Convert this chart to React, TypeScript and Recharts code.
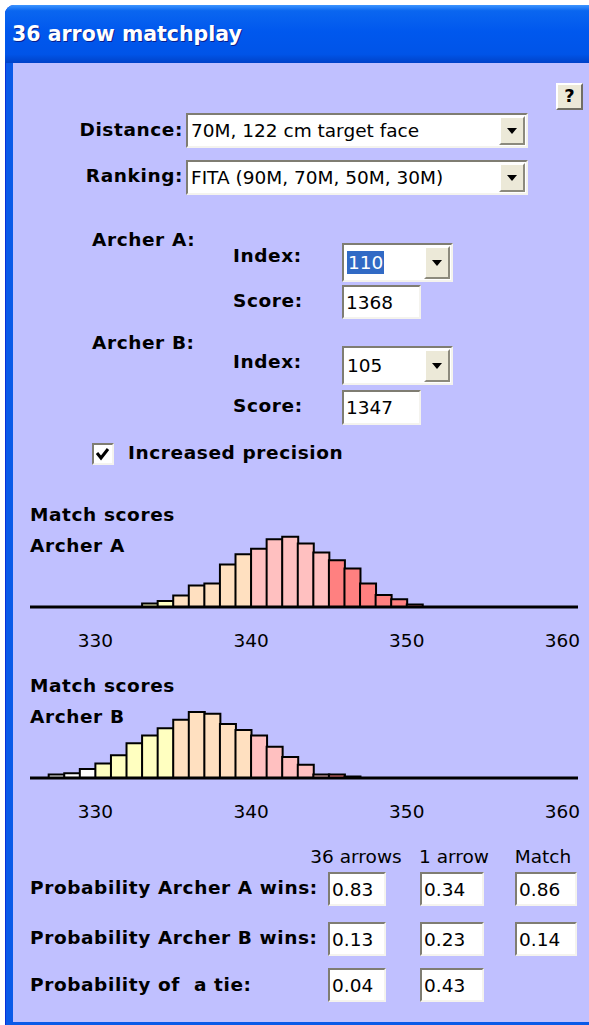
import React from 'react';
import { BarChart, Bar, XAxis, YAxis, Cell } from 'recharts';

// Archer A: match score distribution (percent per score)
const scoresA = [333, 334, 335, 336, 337, 338, 339, 340, 341, 342, 343, 344, 345, 346, 347, 348, 349, 350];
const pctA = [0.6, 1.0, 1.9, 3.6, 3.9, 7.1, 8.8, 9.7, 11.3, 11.7, 10.6, 9.1, 7.8, 6.4, 3.9, 2.0, 1.3, 0.4];

// Archer B
const scoresB = [327, 328, 329, 330, 331, 332, 333, 334, 335, 336, 337, 338, 339, 340, 341, 342, 343, 344, 345, 346];
const pctB = [0.6, 0.8, 1.5, 2.4, 3.8, 5.8, 7.1, 8.3, 9.7, 11.0, 10.7, 9.0, 8.0, 7.1, 5.2, 3.5, 2.2, 0.6, 0.6, 0.25];

const xTicks = [330, 340, 350, 360];

const columns = ['36 arrows', '1 arrow', 'Match'];
const probA = ['0.83', '0.34', '0.86'];
const probB = ['0.13', '0.23', '0.14'];
const probTie = ['0.04', '0.43'];

const FONT = '"DejaVu Sans", Verdana, sans-serif';
const bandColors = ['#ffffff', '#ffffc0', '#ffe0c0', '#ffc0c0', '#ff8080'];
const colorFor = (s: number) => bandColors[Math.min(4, Math.floor((s - 325) / 5))];

const sunken = {
  background: '#fff',
  borderStyle: 'solid',
  borderWidth: 2,
  borderColor: '#7f7d72 #f4f3ee #f4f3ee #7f7d72',
  boxSizing: 'border-box' as const,
};

const Text = ({ x, cy, children, bold = true, right = false, center = false, size = 18.5, color = '#000' }: any) => (
  <div
    style={{
      position: 'absolute',
      left: right ? x - 300 : center ? x - 150 : x,
      width: right || center ? 300 : undefined,
      textAlign: right ? 'right' : center ? 'center' : 'left',
      top: cy - 12,
      height: 24,
      lineHeight: '24px',
      fontSize: size,
      fontWeight: bold ? 'bold' : 'normal',
      letterSpacing: bold ? 0.6 : 0,
      whiteSpace: 'pre',
      color,
    }}
  >
    {children}
  </div>
);

const Box = ({ x, y, w, h, text }: any) => (
  <div style={{ ...sunken, position: 'absolute', left: x, top: y, width: w, height: h }}>
    <div style={{ position: 'absolute', left: 2, top: 0, bottom: 0, display: 'flex', alignItems: 'center', fontSize: 18.5 }}>{text}</div>
  </div>
);

const DropButton = () => (
  <div
    style={{
      position: 'absolute',
      right: 1,
      top: 1,
      bottom: 1,
      width: 26,
      background: '#ece9d8',
      borderStyle: 'solid',
      borderWidth: 2,
      borderColor: '#fff #8c8a7d #8c8a7d #fff',
      boxSizing: 'border-box',
    }}
  >
    <svg width={22} height={26} style={{ position: 'absolute', left: 0, top: '50%', marginTop: -13 }}>
      <polygon points="6,10 16,10 11,16" fill="#000" />
    </svg>
  </div>
);

const Combo = ({ x, y, w, h, text, highlight = false }: any) => (
  <div style={{ ...sunken, position: 'absolute', left: x, top: y, width: w, height: h }}>
    <div style={{ position: 'absolute', left: 3, top: 0, bottom: 0, display: 'flex', alignItems: 'center', fontSize: 18.5 }}>
      <span style={highlight ? { background: '#316ac5', color: '#fff', padding: '1px 1px' } : {}}>{text}</span>
    </div>
    <DropButton />
  </div>
);

const Histogram = ({ scores, pct, top }: { scores: number[]; pct: number[]; top: number }) => {
  const data = scores.map((s, i) => ({ score: s, mid: s + 0.5, pct: pct[i] }));
  return (
    <div style={{ position: 'absolute', left: 0, top }}>
      <BarChart width={589} height={132} data={data} margin={{ top: 10, right: 11, bottom: 0, left: 30 }} barCategoryGap={0} barGap={0}>
        <XAxis
          dataKey="mid"
          type="number"
          domain={[325.8, 361]}
          allowDataOverflow
          ticks={xTicks}
          interval={0}
          tickLine={false}
          tickSize={6}
          tickMargin={21}
          height={50}
          axisLine={{ stroke: '#000', strokeWidth: 3 }}
          tick={{ fill: '#000', fontSize: 18.5, fontFamily: FONT }}
        />
        <YAxis hide domain={[0, 12]} />
        <Bar dataKey="pct" stroke="#000" strokeWidth={2} isAnimationActive={false}>
          {data.map((d) => (
            <Cell key={d.score} fill={colorFor(d.score)} />
          ))}
        </Bar>
      </BarChart>
    </div>
  );
};

export default function App() {
  const colX = [328, 420, 515];
  const colW = [58, 64, 62];
  const rows = [
    { label: 'Probability Archer A wins:', cy: 888, top: 872, vals: probA },
    { label: 'Probability Archer B wins:', cy: 938, top: 922, vals: probB },
    { label: 'Probability of  a tie:', cy: 985, top: 968, vals: probTie },
  ];
  const headerCx = [356, 454, 543];

  return (
    <div style={{ position: 'absolute', left: 0, top: 0, width: 589, height: 1025, overflow: 'hidden', background: '#fff', fontFamily: FONT }}>
      {/* window frame */}
      <div style={{ position: 'absolute', left: 5, top: 5, width: 620, height: 1030, background: '#0a5ae8', borderLeft: '1px solid #0831d9', borderRadius: '9px 9px 0 0' }} />
      {/* title bar */}
      <div
        style={{
          position: 'absolute',
          left: 5,
          top: 5,
          width: 620,
          height: 58,
          borderRadius: '9px 9px 0 0',
          background: 'linear-gradient(to bottom, #3d95ff 0%, #0a66f0 10%, #0058ee 45%, #0054e8 85%, #0042c8 100%)',
        }}
      />
      <div style={{ position: 'absolute', left: 12, top: 5, height: 58, lineHeight: '58px', color: '#fff', fontSize: 20.5, fontWeight: 'bold', textShadow: '1px 1px #0a1e8c' }}>
        36 arrow matchplay
      </div>
      {/* body */}
      <div style={{ position: 'absolute', left: 13, top: 63, width: 620, height: 959, background: '#c0c0ff' }} />

      {/* help button */}
      <div style={{ position: 'absolute', left: 556, top: 83, width: 27, height: 27, background: '#ece9d8', borderStyle: 'solid', borderWidth: 2, borderColor: '#fff #716f64 #716f64 #fff', boxSizing: 'border-box', textAlign: 'center', lineHeight: '22px', fontWeight: 'bold', fontSize: 18 }}>?</div>

      <Text x={183} cy={130} right>Distance:</Text>
      <Combo x={186} y={113} w={342} h={35} text="70M, 122 cm target face" />
      <Text x={183} cy={176} right>Ranking:</Text>
      <Combo x={186} y={160} w={342} h={35} text="FITA (90M, 70M, 50M, 30M)" />

      <Text x={92} cy={240}>Archer A:</Text>
      <Text x={233} cy={256}>Index:</Text>
      <Combo x={342} y={243} w={111} h={39} text="110" highlight />
      <Text x={233} cy={301}>Score:</Text>
      <Box x={342} y={285} w={79} h={34} text="1368" />

      <Text x={92} cy={343}>Archer B:</Text>
      <Text x={233} cy={362}>Index:</Text>
      <Combo x={342} y={346} w={111} h={39} text="105" />
      <Text x={233} cy={406}>Score:</Text>
      <Box x={342} y={390} w={79} h={35} text="1347" />

      {/* checkbox */}
      <div style={{ ...sunken, position: 'absolute', left: 92, top: 443, width: 22, height: 22 }}>
        <svg width={18} height={18} style={{ position: 'absolute', left: 0, top: 0 }}>
          <polyline points="3,8 7,13 14,4" fill="none" stroke="#000" strokeWidth={3} />
        </svg>
      </div>
      <Text x={128} cy={453}>Increased precision</Text>

      <Text x={30} cy={515}>Match scores</Text>
      <Text x={30} cy={546}>Archer A</Text>
      <Histogram scores={scoresA} pct={pctA} top={525} />

      <Text x={30} cy={686}>Match scores</Text>
      <Text x={30} cy={717}>Archer B</Text>
      <Histogram scores={scoresB} pct={pctB} top={696} />

      {columns.map((c, i) => (
        <Text key={c} x={headerCx[i]} cy={857} bold={false} center>
          {c}
        </Text>
      ))}
      {rows.map((r) => (
        <React.Fragment key={r.label}>
          <Text x={30} cy={r.cy}>{r.label}</Text>
          {r.vals.map((v, i) => (
            <Box key={i} x={colX[i]} y={r.top} w={colW[i]} h={34} text={v} />
          ))}
        </React.Fragment>
      ))}
    </div>
  );
}
